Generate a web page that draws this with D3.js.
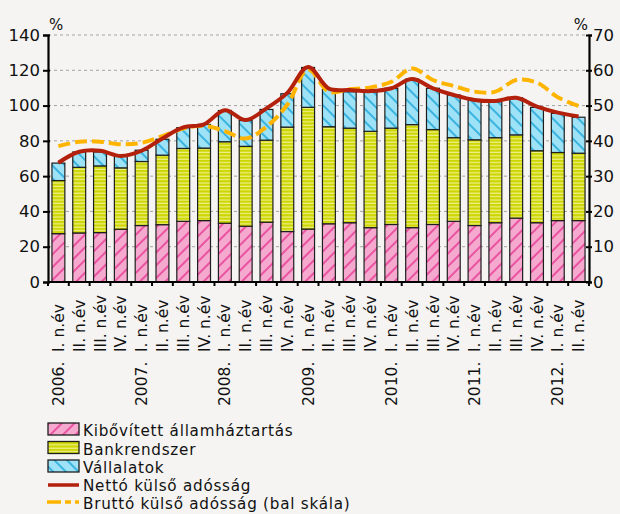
<!DOCTYPE html>
<html><head><meta charset="utf-8">
<script src="https://cdn.jsdelivr.net/npm/d3@7/dist/d3.min.js"></script>
<style>
body{margin:0;background:#f5f4f2;}
svg{display:block;font-family:"DejaVu Sans",sans-serif;}
</style>
</head><body>
<svg id="chart" width="620" height="514"></svg>
<script>
// ---- data ----
const quarters = ["I. n.év","II. n.év","III. n.év","IV. n.év",
  "I. n.év","II. n.év","III. n.év","IV. n.év",
  "I. n.év","II. n.év","III. n.év","IV. n.év",
  "I. n.év","II. n.év","III. n.év","IV. n.év",
  "I. n.év","II. n.év","III. n.év","IV. n.év",
  "I. n.év","II. n.év","III. n.év","IV. n.év",
  "I. n.év","II. n.év"];
const years = ["2006.","","","","2007.","","","","2008.","","","","2009.","","","",
  "2010.","","","","2011.","","","","2012.",""];
// right scale (% of GDP)
const govt      = [13.7,13.9,14.0,14.95,16.0,16.25,17.2,17.4,16.65,15.8,16.95,14.3,15.0,16.5,16.8,15.4,16.3,15.4,16.3,17.2,16.0,16.8,18.1,16.8,17.4,17.4];
const banks     = [15.05,18.6,18.9,17.4,18.15,19.7,20.65,20.55,23.1,22.65,23.25,29.6,34.5,27.5,26.8,27.3,27.3,29.2,26.9,23.7,24.3,24.1,23.6,20.4,19.3,19.1];
const companies = [4.95,4.35,3.95,3.6,3.2,4.5,5.9,6.7,8.85,7.3,8.7,9.45,11.3,10.6,10.3,11.2,11.3,12.9,11.7,12.1,11.3,10.2,10.5,12.3,11.1,10.2];
const netDebt   = [33.8,36.9,37.2,35.7,37.2,40.7,43.8,44.7,48.7,45.9,49.2,53.6,60.9,54.8,54.4,54.1,54.9,57.5,54.9,53.0,51.6,51.3,52.2,49.7,48.0,46.9];
// left scale
const grossDebt = [77.0,79.5,79.5,78.1,78.9,82.7,87.0,88.5,85.5,81.3,88.0,100.5,120.5,107.8,109.2,110.3,113.5,121.0,114.5,111.1,107.9,107.9,114.5,113.0,104.7,99.8];
const leftTicks = [0,20,40,60,80,100,120,140];
const rightTicks = [0,10,20,30,40,50,60,70];
const seriesNames = ["Kibővített államháztartás","Bankrendszer","Vállalatok","Nettó külső adósság","Bruttó külső adósság (bal skála)"];

// ---- layout ----
const svg = d3.select("#chart");
const L = 48, R = 589, T = 35, B = 282;
const idx = d3.range(quarters.length);
const x = d3.scaleBand().domain(idx).range([L, R]).paddingInner(0.38).paddingOuter(0.19);
const yL = d3.scaleLinear().domain([0,140]).range([B, T]);
const yR = d3.scaleLinear().domain([0,70]).range([B, T]);

// patterns
const defs = svg.append("defs");
const pPink = defs.append("pattern").attr("id","pinkH").attr("patternUnits","userSpaceOnUse")
  .attr("width",9).attr("height",9).attr("patternTransform","rotate(45)");
pPink.append("rect").attr("width",9).attr("height",9).attr("fill","#f5a9cf");
pPink.append("line").attr("x1",1).attr("y1",0).attr("x2",1).attr("y2",9).attr("stroke","#e42e8c").attr("stroke-width",1.4);
const pBlue = defs.append("pattern").attr("id","blueH").attr("patternUnits","userSpaceOnUse")
  .attr("width",9).attr("height",9).attr("patternTransform","rotate(-45)");
pBlue.append("rect").attr("width",9).attr("height",9).attr("fill","#9de2f6");
pBlue.append("line").attr("x1",1).attr("y1",0).attr("x2",1).attr("y2",9).attr("stroke","#119fd6").attr("stroke-width",1.4);
const pGreen = defs.append("pattern").attr("id","greenH").attr("patternUnits","userSpaceOnUse")
  .attr("width",6).attr("height",3.4);
pGreen.append("rect").attr("width",6).attr("height",3.4).attr("fill","#cdd600");
pGreen.append("rect").attr("y",2.2).attr("width",6).attr("height",1.2).attr("fill","#eef08c");

// gridlines
svg.append("g").selectAll("line").data(leftTicks.filter(d=>d>0)).join("line")
  .attr("x1",L).attr("x2",R).attr("y1",d=>yL(d)).attr("y2",d=>yL(d))
  .attr("stroke","#a3a3a3").attr("stroke-width",1).attr("stroke-dasharray","3,3");

// stacked bars
const stackData = idx.map(i=>({i, g:govt[i], b:banks[i], c:companies[i]}));
const stack = d3.stack().keys(["g","b","c"])(stackData);
const fills = {g:"url(#pinkH)", b:"url(#greenH)", c:"url(#blueH)"};
svg.append("g").selectAll("g").data(stack).join("g")
  .attr("fill",d=>fills[d.key])
  .selectAll("rect").data(d=>d).join("rect")
  .attr("x",d=>x(d.data.i)).attr("width",x.bandwidth())
  .attr("y",d=>yR(d[1])).attr("height",d=>yR(d[0])-yR(d[1]))
  .attr("stroke","#1e1e1e").attr("stroke-width",1.2);

// lines
const cx = i => x(i) + x.bandwidth()/2;
svg.append("path").datum(idx)
  .attr("d", d3.line().x(cx).y(i=>yL(grossDebt[i])).curve(d3.curveCatmullRom.alpha(0.5)))
  .attr("fill","none").attr("stroke","#ffb500").attr("stroke-width",4).attr("stroke-dasharray","12,5");
svg.append("path").datum(idx)
  .attr("d", d3.line().x(cx).y(i=>yR(netDebt[i])).curve(d3.curveCatmullRom.alpha(0.5)))
  .attr("fill","none").attr("stroke","#b3200c").attr("stroke-width",4).attr("stroke-linejoin","round");

// axes
const axL = svg.append("g").attr("transform",`translate(${L},0)`)
  .call(d3.axisLeft(yL).tickValues(leftTicks).tickSize(5).tickFormat(d3.format("d")));
const axR = svg.append("g").attr("transform",`translate(${R},0)`)
  .call(d3.axisRight(yR).tickValues(rightTicks).tickSize(3).tickFormat(d3.format("d")));
[axL, axR].forEach(a=>{
  a.select(".domain").attr("stroke","#000").attr("stroke-width",2.2);
  a.selectAll(".tick line").attr("stroke","#000").attr("stroke-width",2);
  a.selectAll(".tick text").attr("font-family","DejaVu Sans").attr("font-size",16.5).attr("fill","#111");
});
axL.selectAll(".tick line").attr("x1",2);
axL.selectAll(".tick text").attr("x",-8);
axR.selectAll(".tick line").attr("x1",-3);
axR.selectAll(".tick text").attr("x",4);

// bottom axis
const xb = svg.append("g").attr("transform",`translate(0,${B})`);
xb.append("line").attr("x1",L).attr("x2",R).attr("stroke","#000").attr("stroke-width",2.2);
const bounds = d3.range(quarters.length+1).map(i=> L + i*x.step());
xb.selectAll(".xt").data(bounds).join("line").attr("class","xt")
  .attr("x1",d=>d).attr("x2",d=>d).attr("y1",0).attr("y2",4)
  .attr("stroke","#000").attr("stroke-width",2);

// x labels
svg.append("g").selectAll("text").data(idx).join("text")
  .attr("transform",i=>`translate(${cx(i)},352) rotate(-90)`)
  .attr("dy","0.36em").attr("font-size",15.5).attr("fill","#111")
  .attr("text-anchor","start").text(i=>quarters[i]);
svg.append("g").selectAll("text").data(idx.filter(i=>years[i])).join("text")
  .attr("transform",i=>`translate(${cx(i)},406) rotate(-90)`)
  .attr("dy","0.36em").attr("font-size",15.5).attr("fill","#111")
  .attr("text-anchor","start").text(i=>years[i]);

// % labels
svg.append("text").attr("x",L+1).attr("y",30).attr("font-size",15).attr("fill","#111").text("%");
svg.append("text").attr("x",R-1).attr("y",30).attr("font-size",15).attr("text-anchor","end").attr("fill","#111").text("%");

// legend
const lg = svg.append("g").attr("font-size",15.2).attr("letter-spacing","0.75px").attr("fill","#111");
const rowY = [436, 454.5, 473, 491, 509];
const sw = [fills.g, fills.b, fills.c];
sw.forEach((f,k)=>{
  lg.append("rect").attr("x",48).attr("y",rowY[k]-13).attr("width",31).attr("height",12)
    .attr("fill",f).attr("stroke","#1e1e1e").attr("stroke-width",1.3);
});
lg.append("line").attr("x1",48).attr("x2",79).attr("y1",rowY[3]-6).attr("y2",rowY[3]-6)
  .attr("stroke","#b3200c").attr("stroke-width",3.5);
lg.append("line").attr("x1",47).attr("x2",79).attr("y1",rowY[4]-7).attr("y2",rowY[4]-7)
  .attr("stroke","#ffb500").attr("stroke-width",3.5).attr("stroke-dasharray","14,4,6,4");
seriesNames.forEach((n,k)=>{
  lg.append("text").attr("x",83).attr("y",rowY[k]).text(n);
});
</script>
</body></html>
